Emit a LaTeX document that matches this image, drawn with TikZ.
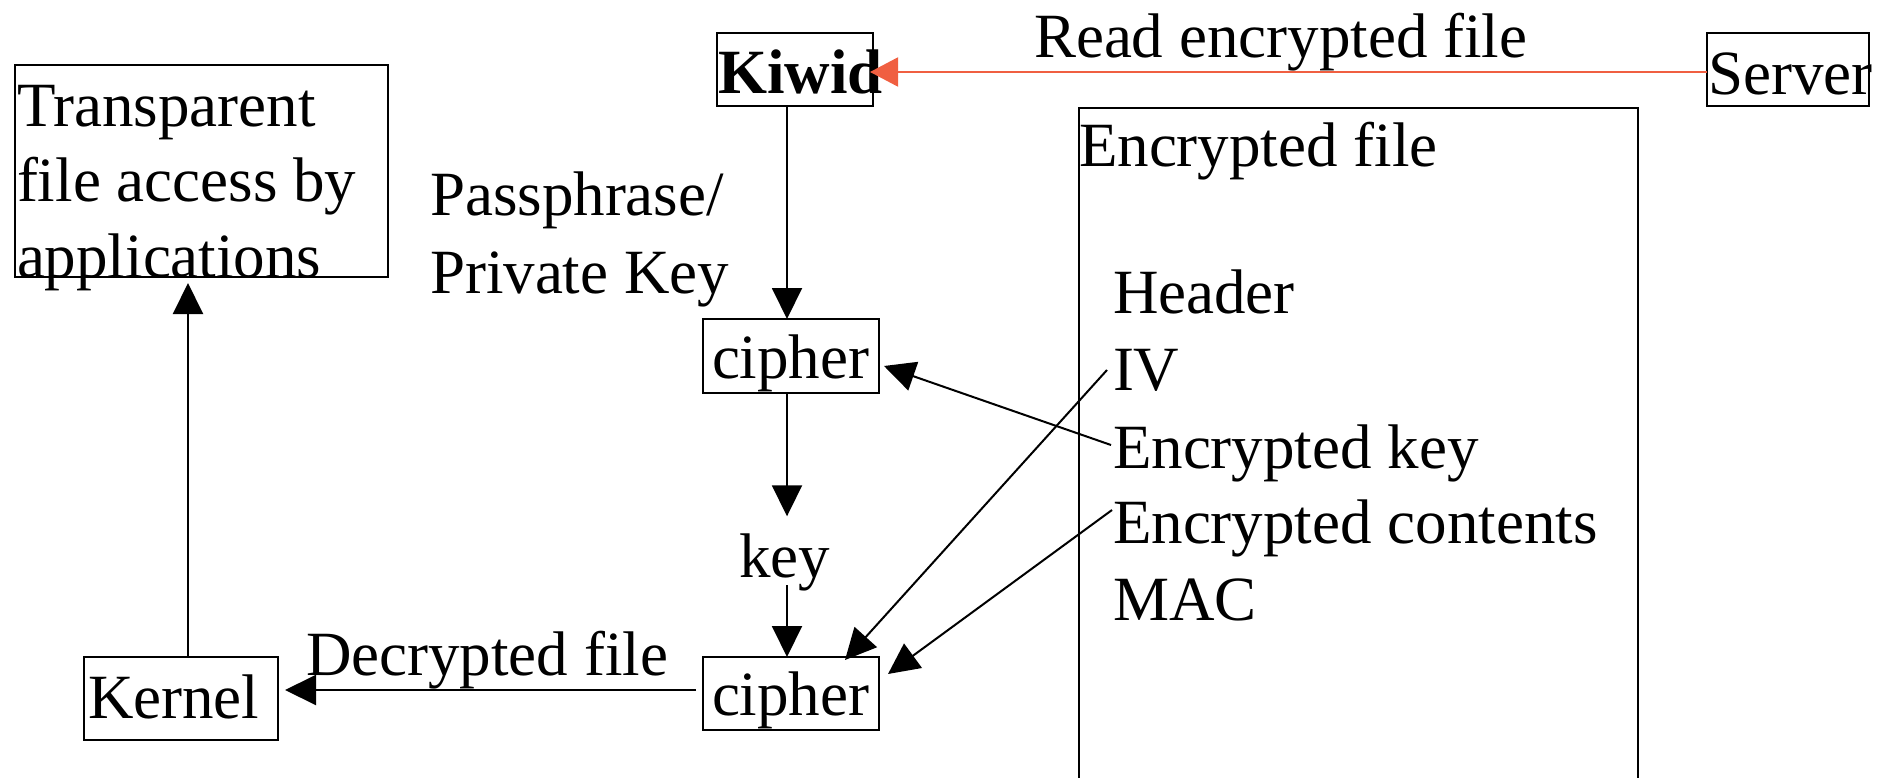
\documentclass[tikz,border=0pt]{standalone}
\usepackage{fontspec}
\setmainfont{Liberation Serif}
\usetikzlibrary{arrows.meta,calc}
\definecolor{redarrow}{RGB}{240,95,65}
\begin{document}
\begin{tikzpicture}[x=1pt,y=-1pt,
  box/.style={draw, line width=2pt, inner sep=0pt, outer sep=0pt},
  txt/.style={inner sep=0pt, outer sep=0pt, anchor=base west, font=\fontsize{63}{77}\selectfont},
  arr/.style={line width=2pt, -{Triangle[length=31pt,width=30pt]}},
]
\useasboundingbox (0,0) rectangle (1892,778);
% boxes
\node[box, minimum width=373pt, minimum height=212pt] (trans) at (201.5,171) {};
\node[box, minimum width=156pt, minimum height=73pt] (kiwid) at (795,69.5) {};
\node[box, minimum width=162pt, minimum height=73pt] (server) at (1788,69.5) {};
\node[box, minimum width=559pt, minimum height=692pt] (encfile) at (1358.5,454) {};
\node[box, minimum width=176pt, minimum height=74pt] (cipherA) at (791,356) {};
\node[box, minimum width=176pt, minimum height=73pt] (cipherB) at (791,693.5) {};
\node[box, minimum width=194pt, minimum height=83pt] (kernel) at (181,698.5) {};
% texts
\node[txt] (transA) at (17,127) {Transparent};
\node[txt] (transB) at (17,202) {file access by};
\node[txt] (transC) at (17,277) {applications};
\node[txt] (kiwidt) at (718,94) {\bfseries Kiwid};
\node[txt] (servert) at (1708,95) {Server};
\node[txt] (readlbl) at (1034,58) {Read encrypted file};
\node[txt] (passA) at (430,215) {Passphrase/};
\node[txt] (passB) at (430,293) {Private Key};
\node[txt] (cipherAt) at (712,378) {cipher};
\node[txt] (cipherBt) at (712,715) {cipher};
\node[txt] (kernelt) at (88,718) {Kernel};
\node[txt] (keylbl) at (739,577) {key};
\node[txt] (declbl) at (306,675) {Decrypted file};
\node[txt] (enctitle) at (1079,167) {Encrypted file};
\node[txt] (hdr) at (1113,313) {Header};
\node[txt] (iv) at (1113,390) {IV};
\node[txt] (ekey) at (1113,468) {Encrypted key};
\node[txt] (econt) at (1113,543) {Encrypted contents};
\node[txt] (mac) at (1113,620) {MAC};
% connectors
\draw[arr, redarrow, -{Triangle[length=28pt,width=29pt]}, shorten >=-3pt] ([yshift=-2.5pt]server.west) -- ([yshift=-2.5pt]kiwid.east);
\draw[arr] ([xshift=-8pt]kiwid.south) -- ([xshift=-4pt]cipherA.north);
\draw[arr, shorten >=17pt] ([xshift=-4pt]cipherA.south) -- ([xshift=-4pt]cipherA.south |- keylbl.north);
\draw[arr] ([xshift=-4pt,yshift=-8pt]cipherB.north |- keylbl.base) -- ([xshift=-4pt]cipherB.north);
\draw[arr, shorten >=6pt] ([xshift=7pt]kernel.north) -- ([xshift=7pt]kernel.north |- trans.south);
\draw[arr, shorten <=7pt, shorten >=7pt] ([yshift=3.5pt]cipherB.west) -- ([yshift=3.5pt]cipherB.west -| kernel.east);
\draw[arr] ($(ekey.base west)+(-2,-23)$) -- ($(cipherA.east)+(5,10)$);
\draw[arr] ($(iv.base west)+(-6,-20)$) -- ($(cipherB.north east)+(-34,3)$);
\draw[arr] ($(econt.base west)+(-1,-33)$) -- ($(cipherB.north east)+(9,17)$);
\end{tikzpicture}
\end{document}
